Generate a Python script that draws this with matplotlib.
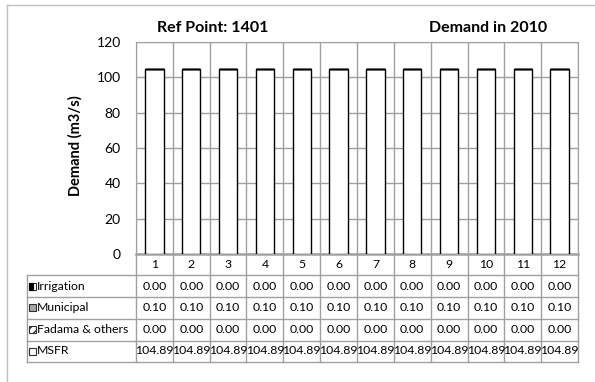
import matplotlib
matplotlib.use('Agg')
import matplotlib.pyplot as plt
import matplotlib.transforms as mtransforms
from matplotlib.patches import Rectangle
from matplotlib.lines import Line2D
import numpy as np

plt.rcParams['font.family'] = ['Lato', 'DejaVu Sans']

# monthly demand at the reference point (m3/s)
months = ['1', '2', '3', '4', '5', '6', '7', '8', '9', '10', '11', '12']
irrigation = [0.00, 0.00, 0.00, 0.00, 0.00, 0.00, 0.00, 0.00, 0.00, 0.00, 0.00, 0.00]
municipal = [0.10, 0.10, 0.10, 0.10, 0.10, 0.10, 0.10, 0.10, 0.10, 0.10, 0.10, 0.10]
fadama = [0.00, 0.00, 0.00, 0.00, 0.00, 0.00, 0.00, 0.00, 0.00, 0.00, 0.00, 0.00]
msfr = [104.89, 104.89, 104.89, 104.89, 104.89, 104.89, 104.89, 104.89, 104.89, 104.89, 104.89, 104.89]
series_names = ['Irrigation', 'Municipal', 'Fadama & others', 'MSFR']

grid_col = '#a0a0a0'
W, H = 595, 382
tfs = 8.8  # table font size

fig = plt.figure(figsize=(W / 100, H / 100), dpi=100)
ax = fig.add_axes([136 / W, 1 - 254 / H, 442 / W, 212 / H])

x = np.arange(len(months))
bw = 0.5
ms = np.array(msfr)
ir = np.array(irrigation)
mu = np.array(municipal)
fa = np.array(fadama)
ax.bar(x, ms, bw, color='white', edgecolor='black', lw=1, zorder=3)
ax.bar(x, ir, bw, bottom=ms, color='black', edgecolor='black', lw=1, zorder=3)
ax.bar(x, mu, bw, bottom=ms + ir, color='#a6a6a6', edgecolor='black', lw=1, zorder=3)
ax.bar(x, fa, bw, bottom=ms + ir + mu, color='white', edgecolor='black',
       hatch='////', lw=1, zorder=3)

ax.set_xlim(-0.5, len(months) - 0.5)
ax.set_ylim(0, 120)
ax.set_yticks(np.arange(0, 121, 20))
ax.set_xticks([])
ax.tick_params(axis='y', length=0, labelsize=10, pad=11)
ax.grid(axis='y', color=grid_col, lw=1, zorder=0)
for b in np.arange(-0.5, len(months), 1.0):
    ax.axvline(b, color=grid_col, lw=1, zorder=0)
for s in ax.spines.values():
    s.set_color(grid_col)
ax.spines['bottom'].set_linewidth(1.8)

ax.text(-0.138, 0.51, 'Demand (m3/s)', transform=ax.transAxes, rotation=90,
        ha='center', va='center', fontsize=10.5, fontweight='bold')
fig.text(213 / W, 1 - 28 / H, 'Ref Point: 1401', ha='center', va='center',
         fontsize=11.5, fontweight='bold')
fig.text(488 / W, 1 - 28 / H, 'Demand in 2010', ha='center', va='center',
         fontsize=11.5, fontweight='bold')

# data table under the plot
trans = mtransforms.blended_transform_factory(ax.transData, ax.transAxes)
def ay(py):
    return (254 - py) / 212
def axx(px):
    return (px - 136) / 442

row_edges = [254, 275, 297, 318.5, 340.5, 361.5]
left = axx(27)
tbl = dict(color=grid_col, lw=1, clip_on=False)

for i, m in enumerate(months):
    ax.text(i, ay((row_edges[0] + row_edges[1]) / 2), m, transform=trans,
            ha='center', va='center', fontsize=tfs)

table_rows = [irrigation, municipal, fadama, msfr]
for r, (name, vals) in enumerate(zip(series_names, table_rows)):
    yc = ay((row_edges[r + 1] + row_edges[r + 2]) / 2)
    for i, v in enumerate(vals):
        ax.text(i, yc, f'{v:.2f}', transform=trans, ha='center', va='center',
                fontsize=tfs)
    ax.text(axx(37), yc, name, transform=ax.transAxes, ha='left',
            va='center', fontsize=tfs)

# legend keys in the row headers
kw, kh = 7 / 442, 7 / 212
kx = axx(29)
keys = [('white', None), ('#a6a6a6', None), ('white', '////'), ('white', None)]
for r, (fc, hatch) in enumerate(keys):
    yc = ay((row_edges[r + 1] + row_edges[r + 2]) / 2)
    ax.add_patch(Rectangle((kx, yc - kh / 2), kw, kh, transform=ax.transAxes,
                           facecolor=fc, edgecolor='#303030', hatch=hatch,
                           lw=0.8, clip_on=False))
    if r == 0:
        ax.add_patch(Rectangle((kx, yc - kh / 2), kw / 2, kh,
                               transform=ax.transAxes, facecolor='black',
                               edgecolor='black', lw=0.8, clip_on=False))

for py in row_edges[1:]:
    ax.plot([left, 1], [ay(py), ay(py)], transform=ax.transAxes, **tbl)
ax.plot([left, left], [ay(row_edges[1]), ay(row_edges[-1])],
        transform=ax.transAxes, **tbl)
for b in np.arange(-0.5, len(months), 1.0):
    ax.plot([b, b], [ay(row_edges[0]), ay(row_edges[-1])], transform=trans, **tbl)

# outer chart border
fig.add_artist(Line2D([7 / W, 1], [1 - 5 / H, 1 - 5 / H], color='#c0c0c0', lw=1))
fig.add_artist(Line2D([7 / W, 7 / W], [0, 1 - 5 / H], color='#c0c0c0', lw=1))

fig.savefig('out.png', dpi=100)
